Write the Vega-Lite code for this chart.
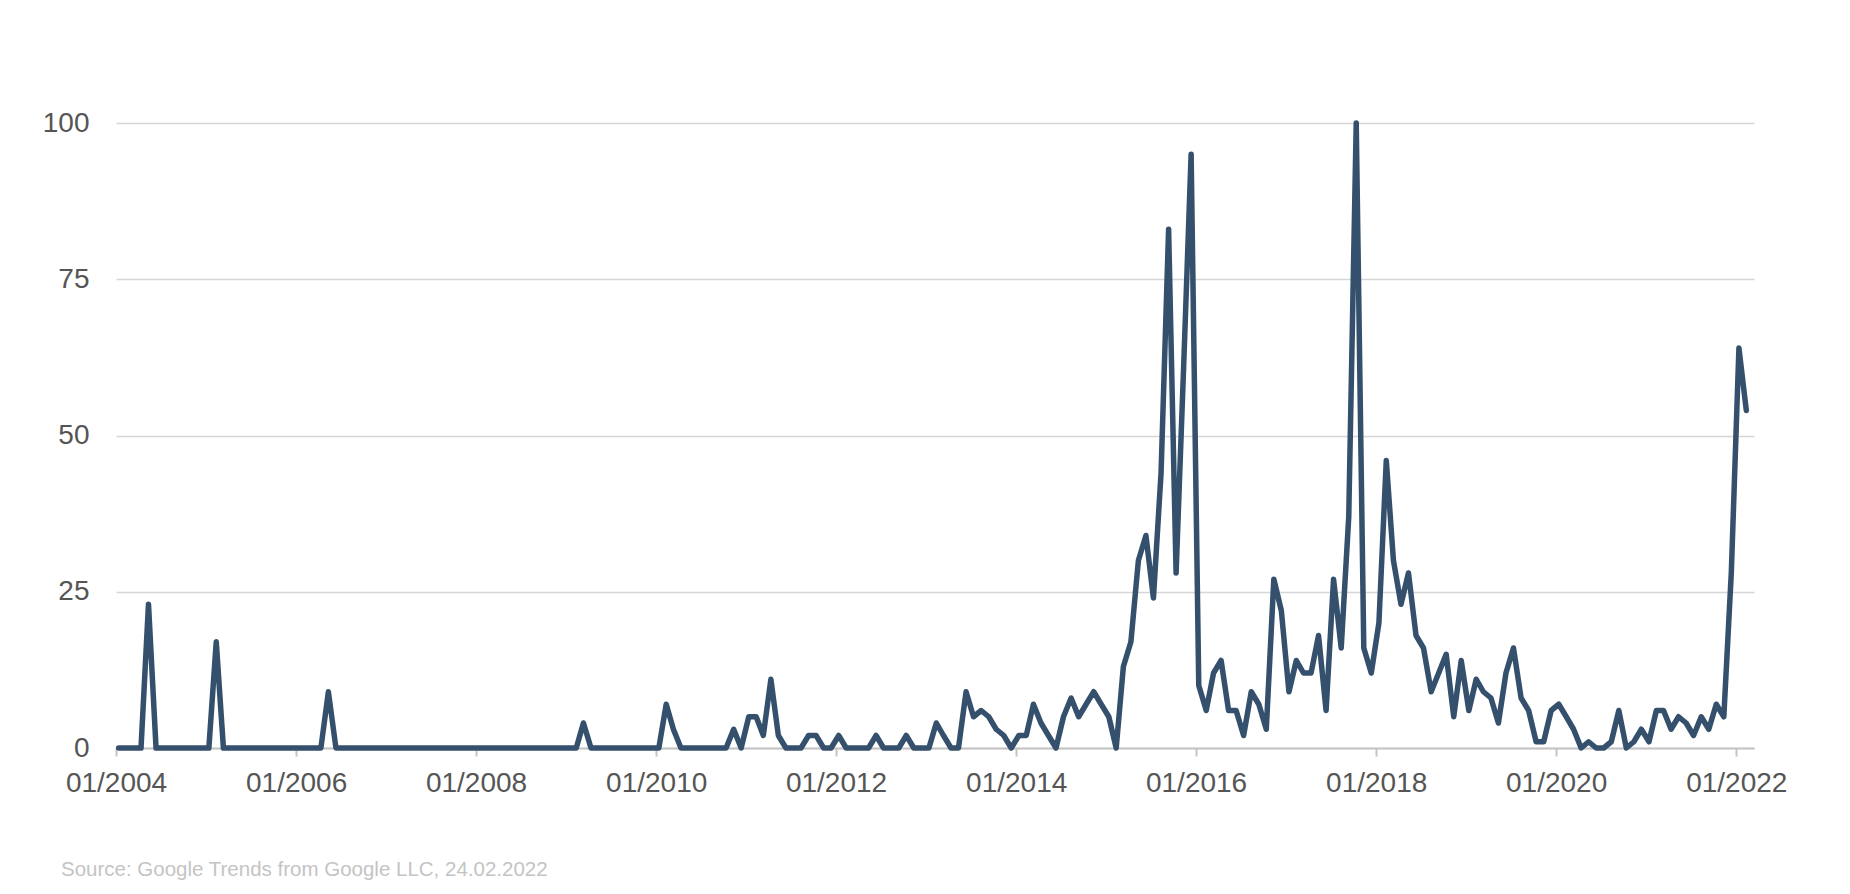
{
  "$schema": "https://vega.github.io/schema/vega-lite/v6.json",
  "width": 1638,
  "height": 625,
  "autosize": {"type": "none"},
  "padding": {"left": 116, "top": 123, "right": 96, "bottom": 146},
  "background": "#ffffff",
  "config": {"view": {"stroke": null}},
  "title": {
    "text": "Source: Google Trends from Google LLC, 24.02.2022",
    "orient": "bottom",
    "anchor": "start",
    "frame": "group",
    "dx": -55,
    "offset": 79,
    "baseline": "alphabetic",
    "font": "Liberation Sans",
    "fontSize": 20.5,
    "fontWeight": "normal",
    "color": "#c4c4c4"
  },
  "data": {
    "values": [
      {"date": "2004-01", "value": 0}, {"date": "2004-02", "value": 0}, {"date": "2004-03", "value": 0}, {"date": "2004-04", "value": 0},
      {"date": "2004-05", "value": 23}, {"date": "2004-06", "value": 0}, {"date": "2004-07", "value": 0}, {"date": "2004-08", "value": 0},
      {"date": "2004-09", "value": 0}, {"date": "2004-10", "value": 0}, {"date": "2004-11", "value": 0}, {"date": "2004-12", "value": 0},
      {"date": "2005-01", "value": 0}, {"date": "2005-02", "value": 17}, {"date": "2005-03", "value": 0}, {"date": "2005-04", "value": 0},
      {"date": "2005-05", "value": 0}, {"date": "2005-06", "value": 0}, {"date": "2005-07", "value": 0}, {"date": "2005-08", "value": 0},
      {"date": "2005-09", "value": 0}, {"date": "2005-10", "value": 0}, {"date": "2005-11", "value": 0}, {"date": "2005-12", "value": 0},
      {"date": "2006-01", "value": 0}, {"date": "2006-02", "value": 0}, {"date": "2006-03", "value": 0}, {"date": "2006-04", "value": 0},
      {"date": "2006-05", "value": 9}, {"date": "2006-06", "value": 0}, {"date": "2006-07", "value": 0}, {"date": "2006-08", "value": 0},
      {"date": "2006-09", "value": 0}, {"date": "2006-10", "value": 0}, {"date": "2006-11", "value": 0}, {"date": "2006-12", "value": 0},
      {"date": "2007-01", "value": 0}, {"date": "2007-02", "value": 0}, {"date": "2007-03", "value": 0}, {"date": "2007-04", "value": 0},
      {"date": "2007-05", "value": 0}, {"date": "2007-06", "value": 0}, {"date": "2007-07", "value": 0}, {"date": "2007-08", "value": 0},
      {"date": "2007-09", "value": 0}, {"date": "2007-10", "value": 0}, {"date": "2007-11", "value": 0}, {"date": "2007-12", "value": 0},
      {"date": "2008-01", "value": 0}, {"date": "2008-02", "value": 0}, {"date": "2008-03", "value": 0}, {"date": "2008-04", "value": 0},
      {"date": "2008-05", "value": 0}, {"date": "2008-06", "value": 0}, {"date": "2008-07", "value": 0}, {"date": "2008-08", "value": 0},
      {"date": "2008-09", "value": 0}, {"date": "2008-10", "value": 0}, {"date": "2008-11", "value": 0}, {"date": "2008-12", "value": 0},
      {"date": "2009-01", "value": 0}, {"date": "2009-02", "value": 0}, {"date": "2009-03", "value": 4}, {"date": "2009-04", "value": 0},
      {"date": "2009-05", "value": 0}, {"date": "2009-06", "value": 0}, {"date": "2009-07", "value": 0}, {"date": "2009-08", "value": 0},
      {"date": "2009-09", "value": 0}, {"date": "2009-10", "value": 0}, {"date": "2009-11", "value": 0}, {"date": "2009-12", "value": 0},
      {"date": "2010-01", "value": 0}, {"date": "2010-02", "value": 7}, {"date": "2010-03", "value": 3}, {"date": "2010-04", "value": 0},
      {"date": "2010-05", "value": 0}, {"date": "2010-06", "value": 0}, {"date": "2010-07", "value": 0}, {"date": "2010-08", "value": 0},
      {"date": "2010-09", "value": 0}, {"date": "2010-10", "value": 0}, {"date": "2010-11", "value": 3}, {"date": "2010-12", "value": 0},
      {"date": "2011-01", "value": 5}, {"date": "2011-02", "value": 5}, {"date": "2011-03", "value": 2}, {"date": "2011-04", "value": 11},
      {"date": "2011-05", "value": 2}, {"date": "2011-06", "value": 0}, {"date": "2011-07", "value": 0}, {"date": "2011-08", "value": 0},
      {"date": "2011-09", "value": 2}, {"date": "2011-10", "value": 2}, {"date": "2011-11", "value": 0}, {"date": "2011-12", "value": 0},
      {"date": "2012-01", "value": 2}, {"date": "2012-02", "value": 0}, {"date": "2012-03", "value": 0}, {"date": "2012-04", "value": 0},
      {"date": "2012-05", "value": 0}, {"date": "2012-06", "value": 2}, {"date": "2012-07", "value": 0}, {"date": "2012-08", "value": 0},
      {"date": "2012-09", "value": 0}, {"date": "2012-10", "value": 2}, {"date": "2012-11", "value": 0}, {"date": "2012-12", "value": 0},
      {"date": "2013-01", "value": 0}, {"date": "2013-02", "value": 4}, {"date": "2013-03", "value": 2}, {"date": "2013-04", "value": 0},
      {"date": "2013-05", "value": 0}, {"date": "2013-06", "value": 9}, {"date": "2013-07", "value": 5}, {"date": "2013-08", "value": 6},
      {"date": "2013-09", "value": 5}, {"date": "2013-10", "value": 3}, {"date": "2013-11", "value": 2}, {"date": "2013-12", "value": 0},
      {"date": "2014-01", "value": 2}, {"date": "2014-02", "value": 2}, {"date": "2014-03", "value": 7}, {"date": "2014-04", "value": 4},
      {"date": "2014-05", "value": 2}, {"date": "2014-06", "value": 0}, {"date": "2014-07", "value": 5}, {"date": "2014-08", "value": 8},
      {"date": "2014-09", "value": 5}, {"date": "2014-10", "value": 7}, {"date": "2014-11", "value": 9}, {"date": "2014-12", "value": 7},
      {"date": "2015-01", "value": 5}, {"date": "2015-02", "value": 0}, {"date": "2015-03", "value": 13}, {"date": "2015-04", "value": 17},
      {"date": "2015-05", "value": 30}, {"date": "2015-06", "value": 34}, {"date": "2015-07", "value": 24}, {"date": "2015-08", "value": 44},
      {"date": "2015-09", "value": 83}, {"date": "2015-10", "value": 28}, {"date": "2015-11", "value": 61}, {"date": "2015-12", "value": 95},
      {"date": "2016-01", "value": 10}, {"date": "2016-02", "value": 6}, {"date": "2016-03", "value": 12}, {"date": "2016-04", "value": 14},
      {"date": "2016-05", "value": 6}, {"date": "2016-06", "value": 6}, {"date": "2016-07", "value": 2}, {"date": "2016-08", "value": 9},
      {"date": "2016-09", "value": 7}, {"date": "2016-10", "value": 3}, {"date": "2016-11", "value": 27}, {"date": "2016-12", "value": 22},
      {"date": "2017-01", "value": 9}, {"date": "2017-02", "value": 14}, {"date": "2017-03", "value": 12}, {"date": "2017-04", "value": 12},
      {"date": "2017-05", "value": 18}, {"date": "2017-06", "value": 6}, {"date": "2017-07", "value": 27}, {"date": "2017-08", "value": 16},
      {"date": "2017-09", "value": 37}, {"date": "2017-10", "value": 100}, {"date": "2017-11", "value": 16}, {"date": "2017-12", "value": 12},
      {"date": "2018-01", "value": 20}, {"date": "2018-02", "value": 46}, {"date": "2018-03", "value": 30}, {"date": "2018-04", "value": 23},
      {"date": "2018-05", "value": 28}, {"date": "2018-06", "value": 18}, {"date": "2018-07", "value": 16}, {"date": "2018-08", "value": 9},
      {"date": "2018-09", "value": 12}, {"date": "2018-10", "value": 15}, {"date": "2018-11", "value": 5}, {"date": "2018-12", "value": 14},
      {"date": "2019-01", "value": 6}, {"date": "2019-02", "value": 11}, {"date": "2019-03", "value": 9}, {"date": "2019-04", "value": 8},
      {"date": "2019-05", "value": 4}, {"date": "2019-06", "value": 12}, {"date": "2019-07", "value": 16}, {"date": "2019-08", "value": 8},
      {"date": "2019-09", "value": 6}, {"date": "2019-10", "value": 1}, {"date": "2019-11", "value": 1}, {"date": "2019-12", "value": 6},
      {"date": "2020-01", "value": 7}, {"date": "2020-02", "value": 5}, {"date": "2020-03", "value": 3}, {"date": "2020-04", "value": 0},
      {"date": "2020-05", "value": 1}, {"date": "2020-06", "value": 0}, {"date": "2020-07", "value": 0}, {"date": "2020-08", "value": 1},
      {"date": "2020-09", "value": 6}, {"date": "2020-10", "value": 0}, {"date": "2020-11", "value": 1}, {"date": "2020-12", "value": 3},
      {"date": "2021-01", "value": 1}, {"date": "2021-02", "value": 6}, {"date": "2021-03", "value": 6}, {"date": "2021-04", "value": 3},
      {"date": "2021-05", "value": 5}, {"date": "2021-06", "value": 4}, {"date": "2021-07", "value": 2}, {"date": "2021-08", "value": 5},
      {"date": "2021-09", "value": 3}, {"date": "2021-10", "value": 7}, {"date": "2021-11", "value": 5}, {"date": "2021-12", "value": 28},
      {"date": "2022-01", "value": 64}, {"date": "2022-02", "value": 54}
    ]
  },
  "mark": {
    "type": "line",
    "color": "#34506c",
    "strokeWidth": 5.5,
    "strokeJoin": "round",
    "strokeCap": "round",
    "clip": false
  },
  "encoding": {
    "x": {
      "field": "date",
      "timeUnit": "utcyearmonth",
      "bandPosition": 0.35,
      "type": "temporal",
      "scale": {
        "type": "utc",
        "domain": [
          {"year": 2004, "month": 1, "date": 1, "utc": true},
          {"year": 2022, "month": 3, "date": 14, "utc": true}
        ]
      },
      "axis": {
        "title": null,
        "format": "%m/%Y",
        "values": [
          {"year": 2004, "month": 1, "date": 1, "utc": true},
          {"year": 2006, "month": 1, "date": 1, "utc": true},
          {"year": 2008, "month": 1, "date": 1, "utc": true},
          {"year": 2010, "month": 1, "date": 1, "utc": true},
          {"year": 2012, "month": 1, "date": 1, "utc": true},
          {"year": 2014, "month": 1, "date": 1, "utc": true},
          {"year": 2016, "month": 1, "date": 1, "utc": true},
          {"year": 2018, "month": 1, "date": 1, "utc": true},
          {"year": 2020, "month": 1, "date": 1, "utc": true},
          {"year": 2022, "month": 1, "date": 1, "utc": true}
        ],
        "grid": false,
        "domain": true,
        "domainColor": "#c4c4c4",
        "domainWidth": 2,
        "ticks": true,
        "tickColor": "#c4c4c4",
        "tickWidth": 2,
        "tickSize": 8,
        "labelPadding": 13,
        "labelFont": "Liberation Sans",
        "labelFontSize": 28,
        "labelColor": "#555555",
        "labelFlush": false,
        "labelOverlap": false
      }
    },
    "y": {
      "field": "value",
      "type": "quantitative",
      "scale": {"domain": [0, 100], "nice": false, "zero": true},
      "axis": {
        "title": null,
        "values": [0, 25, 50, 75, 100],
        "domain": false,
        "ticks": false,
        "tickSize": 0,
        "grid": true,
        "gridColor": "#d6d6d6",
        "gridWidth": 1.3,
        "labelPadding": 27,
        "labelFont": "Liberation Sans",
        "labelFontSize": 28,
        "labelColor": "#555555",
        "labelFlush": false,
        "labelOverlap": false
      }
    }
  }
}
